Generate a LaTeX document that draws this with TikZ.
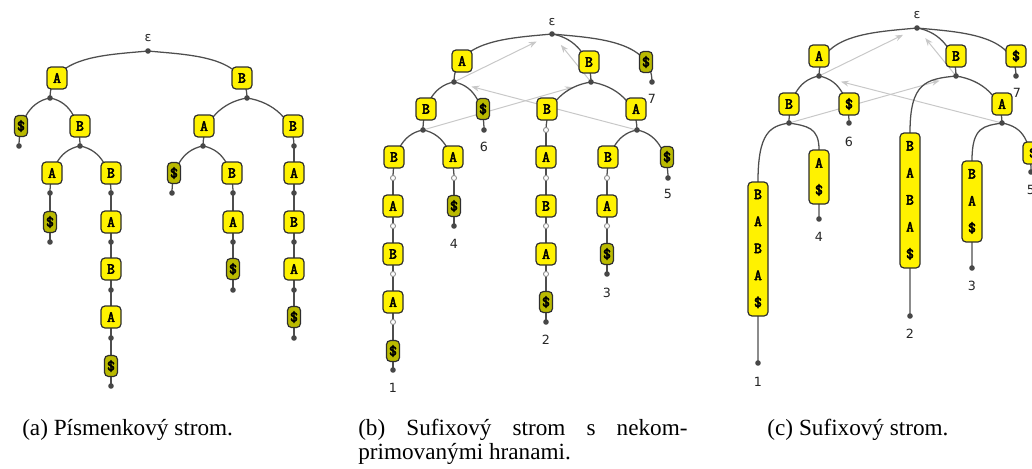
\documentclass[tikz,border=0pt]{standalone}
\usepackage{fontspec}
\setmainfont{Liberation Serif}
\newfontfamily\monofam[AutoFakeBold=3]{Latin Modern Mono}
\newfontfamily\sansfam{DejaVu Sans}
\usetikzlibrary{arrows.meta}
\pgfdeclarelayer{bg}
\pgfsetlayers{bg,main}
\definecolor{olv}{RGB}{186,186,0}
\definecolor{edgec}{RGB}{78,78,78}
\definecolor{linkc}{RGB}{200,200,200}
\newcommand\boxtxt{\monofam\bfseries\fontsize{11.5}{20.25}\selectfont}
\newcommand\numtxt{\sansfam\fontsize{9.5}{11}\selectfont}
\newcommand\captxt{\fontsize{17.4}{18}\selectfont}
\newcommand\cv[4]{\draw[edge] (#1.center) .. controls +(#3,4) and +(0,-#4) .. (#2.center);}
\newcommand\cvl[5]{\draw[edge] (#1.center) .. controls +(#4,3) and +(0,-#5) .. (#2.north) -- (#3.center);}
\tikzset{
  dot/.style={circle, fill=black!72, inner sep=0pt, minimum size=4.2pt},
  hdot/.style={circle, draw=black!45, fill=white, line width=0.65pt, inner sep=0pt, minimum size=3.8pt},
  lab/.style={draw=black!82, line width=0.9pt, fill=yellow, rounded corners=3pt, inner sep=0pt,
              minimum width=15pt, minimum height=16.5pt, font=\boxtxt},
  dol/.style={lab, fill=olv, minimum width=9.75pt, minimum height=15.75pt},
  longbox/.style={lab, align=center, minimum width=15pt},
  edge/.style={draw=edgec, line width=0.95pt},
  slink/.style={draw=linkc, line width=0.75pt, -{Stealth[length=6pt, width=4.5pt]}},
  num/.style={font=\numtxt, text=black!85, inner sep=0pt},
  captn/.style={font=\captxt, inner sep=0pt},
}
\begin{document}
\begin{tikzpicture}[x=0.75pt, y=-0.75pt]
\useasboundingbox (0,0) rectangle (1032,468);

% ================= (a) =================
\node[num] (aeps) at (148,38) {ε};
\node[dot] (aR) at (148,51) {};
\node[lab] (aA) at (57,78) {A};   \node[dot] (a1) at (50,98) {};
\node[lab] (aB) at (242,78) {B};  \node[dot] (a2) at (247,98) {};
\node[dol] (a1S) at (21,126) {\$}; \node[dot] (a11) at (19,146) {};
\node[lab] (a1B) at (80,126) {B};  \node[dot] (a12) at (80,146) {};
\node[lab] (a2A) at (204,126) {A}; \node[dot] (a21) at (203,146) {};
\node[lab] (a2B) at (293,126) {B}; \node[dot] (a22) at (294,146) {};
\node[lab] (a12A) at (52,173) {A};  \node[dot] (a121) at (50,193) {};
\node[lab] (a12B) at (111,173) {B}; \node[dot] (a122) at (111,193) {};
\node[dol] (a21S) at (174,173) {\$}; \node[dot] (a211) at (172,193) {};
\node[lab] (a21B) at (232,173) {B}; \node[dot] (a212) at (233,193) {};
\node[lab] (a22A) at (294,173) {A}; \node[dot] (a221) at (294,193) {};
\node[dol] (a4a) at (50,222) {\$};  \node[dot] (a4da) at (50,242) {};
\node[lab] (a4b) at (111,222) {A};  \node[dot] (a4db) at (111,242) {};
\node[lab] (a4c) at (233,222) {A};  \node[dot] (a4dc) at (233,242) {};
\node[lab] (a4d) at (294,222) {B};  \node[dot] (a4dd) at (294,242) {};
\node[lab] (a5b) at (111,269) {B};  \node[dot] (a5db) at (111,290) {};
\node[dol] (a5c) at (233,269) {\$}; \node[dot] (a5dc) at (233,290) {};
\node[lab] (a5d) at (294,269) {A};  \node[dot] (a5dd) at (294,290) {};
\node[lab] (a6b) at (111,317) {A};  \node[dot] (a6db) at (111,338) {};
\node[dol] (a6d) at (294,317) {\$}; \node[dot] (a6dd) at (294,338) {};
\node[dol] (a7b) at (111,366) {\$}; \node[dot] (a7db) at (111,386) {};

% ================= (b) =================
\node[num] (beps) at (552,22) {ε};
\node[dot] (bR) at (552,34) {};
\node[lab] (bA) at (462,61) {A};  \node[dot] (b1) at (454,82) {};
\node[lab] (bB) at (589,62) {B};  \node[dot] (b2) at (591,82) {};
\node[dol] (bS) at (646,62) {\$}; \node[dot] (b3) at (652,82) {}; \node[num] (bn7) at (652,99) {7};
\node[lab] (b1B) at (426,109) {B}; \node[dot] (b11) at (423,130) {};
\node[dol] (b1S) at (483,109) {\$}; \node[dot] (b12) at (484,130) {}; \node[num] (bn6) at (484,147) {6};
\node[lab] (b2B) at (547,109) {B}; \node[hdot] (b21) at (546,130) {};
\node[lab] (b2A) at (636,109) {A}; \node[dot] (b22) at (637,130) {};
\node[lab] (b11B) at (394,157) {B}; \node[hdot] (b111) at (393,178) {};
\node[lab] (b11A) at (453,157) {A}; \node[hdot] (b112) at (454,178) {};
\node[lab] (b21A) at (546,157) {A}; \node[hdot] (b211) at (546,178) {};
\node[lab] (b22B) at (608,157) {B}; \node[hdot] (b221) at (607,178) {};
\node[dol] (b22S) at (667,157) {\$}; \node[dot] (b222) at (668,178) {}; \node[num] (bn5) at (668,194) {5};
\node[lab] (b4a) at (393,206) {A};  \node[hdot] (b4da) at (393,226) {};
\node[dol] (b4b) at (454,206) {\$}; \node[dot] (b4db) at (454,226) {}; \node[num] (bn4) at (454,244) {4};
\node[lab] (b4c) at (546,206) {B};  \node[hdot] (b4dc) at (546,226) {};
\node[lab] (b4d) at (607,206) {A};  \node[hdot] (b4dd) at (607,226) {};
\node[lab] (b5a) at (393,254) {B};  \node[hdot] (b5da) at (393,274) {};
\node[lab] (b5c) at (546,254) {A};  \node[hdot] (b5dc) at (546,274) {};
\node[dol] (b5d) at (607,254) {\$}; \node[dot] (b5dd) at (607,274) {}; \node[num] (bn3) at (607,293) {3};
\node[lab] (b6a) at (393,302) {A};  \node[hdot] (b6da) at (393,322) {};
\node[dol] (b6c) at (546,302) {\$}; \node[dot] (b6dc) at (546,322) {}; \node[num] (bn2) at (546,340) {2};
\node[dol] (b7a) at (393,351) {\$}; \node[dot] (b7da) at (393,370) {}; \node[num] (bn1) at (393,388) {1};

% ================= (c) =================
\node[num] (ceps) at (917,15) {ε};
\node[dot] (cR) at (917,28) {};
\node[lab] (cA) at (819,56) {A};  \node[dot] (c1) at (819,76) {};
\node[lab] (cB) at (956,56) {B};  \node[dot] (c2) at (956,76) {};
\node[lab] (cS) at (1016,56) {\$}; \node[dot] (c3) at (1016,76) {}; \node[num] (cn7) at (1017,93) {7};
\node[lab] (c1B) at (789,104) {B}; \node[dot] (c11) at (789,123) {};
\node[lab] (c1S) at (849,104) {\$}; \node[dot] (c12) at (849,123) {}; \node[num] (cn6) at (849,142) {6};
\node[longbox, minimum height=101.25pt] (c2L) at (910,200.5) {B\\A\\B\\A\\\$};
\node[dot] (c21) at (910,316) {}; \node[num] (cn2) at (910,334) {2};
\node[lab] (c2A) at (1002,104) {A}; \node[dot] (c22) at (1002,123) {};
\node[longbox, minimum height=100.5pt] (c11L) at (758,249) {B\\A\\B\\A\\\$};
\node[dot] (c111) at (758,363) {}; \node[num] (cn1) at (758,382) {1};
\node[longbox, minimum height=40.5pt] (c12L) at (819,177) {A\\\$};
\node[dot] (c112) at (819,219) {}; \node[num] (cn4) at (819,237) {4};
\node[longbox, minimum height=60.75pt] (c22L) at (972,201.5) {B\\A\\\$};
\node[dot] (c221) at (972,268) {}; \node[num] (cn3) at (972,286) {3};
\node[lab] (c22S) at (1033,153) {\$}; \node[dot] (c222) at (1031,172) {}; \node[num] (cn5) at (1031,190) {5};

% ================= captions =================
\node[captn, anchor=base west] (capa) at (22,435) {(a) Písmenkový strom.};
\node[captn, anchor=base west] (capb1) at (358,435) {\makebox[247pt][s]{(b) Sufixový strom s nekom-}};
\node[captn, anchor=base west] (capb2) at (358,459) {primovanými hranami.};
\node[captn, anchor=base] (capc) at (858,435) {(c) Sufixový strom.};

\begin{pgfonlayer}{bg}
% suffix links
\draw[slink, shorten >=12.75pt] (b1.center) -- (bR.center);
\draw[slink, shorten >=10.5pt] (b2.center) -- (bR.center);
\draw[slink, shorten >=14pt] (b11.center) -- (b2.center);
\draw[slink, shorten >=13.5pt] (b22.center) -- (b1.center);
\draw[slink, shorten >=11.6pt] (c1.center) -- (cR.center);
\draw[slink, shorten >=9.75pt] (c2.center) -- (cR.center);
\draw[slink, shorten >=12.75pt] (c11.center) -- (c2.center);
\draw[slink, shorten >=17pt] (c22.center) -- (c1.center);
% (a) edges
\cv{aR}{a1}{-42}{42} \cv{aR}{a2}{42}{42}
\cv{a1}{a11}{-22}{22} \cv{a1}{a12}{22}{22}
\cv{a2}{a21}{-25}{25} \cv{a2}{a22}{26}{26}
\cv{a12}{a121}{-22}{22} \cv{a12}{a122}{22}{22}
\cv{a21}{a211}{-22}{22} \cv{a21}{a212}{22}{22}
\draw[edge] (a22.center) -- (a221.center) -- (a4dd.center) -- (a5dd.center) -- (a6dd.center);
\draw[edge] (a121.center) -- (a4da.center);
\draw[edge] (a122.center) -- (a4db.center) -- (a5db.center) -- (a6db.center) -- (a7db.center);
\draw[edge] (a212.center) -- (a4dc.center) -- (a5dc.center);
% (b) edges
\cv{bR}{b1}{-42}{42} \cv{bR}{b2}{24}{24} \cv{bR}{b3}{42}{42}
\cv{b1}{b11}{-22}{22} \cv{b1}{b12}{22}{22}
\cv{b2}{b21}{-26}{26} \cv{b2}{b22}{26}{26}
\cv{b11}{b111}{-22}{22} \cv{b11}{b112}{22}{22}
\cv{b22}{b221}{-22}{22} \cv{b22}{b222}{22}{22}
\draw[edge] (b111.center) -- (b4da.center) -- (b5da.center) -- (b6da.center) -- (b7da.center);
\draw[edge] (b112.center) -- (b4db.center);
\draw[edge] (b21.center) -- (b211.center) -- (b4dc.center) -- (b5dc.center) -- (b6dc.center);
\draw[edge] (b221.center) -- (b4dd.center) -- (b5dd.center);
% (c) edges
\cv{cR}{c1}{-42}{42} \cv{cR}{c2}{24}{24} \cv{cR}{c3}{42}{42}
\cv{c1}{c11}{-22}{22} \cv{c1}{c12}{22}{22}
\cvl{c2}{c2L}{c21}{-30}{50} \cv{c2}{c22}{26}{26}
\cvl{c11}{c11L}{c111}{-18}{50} \cvl{c11}{c12L}{c112}{18}{22}
\cvl{c22}{c22L}{c221}{-18}{34} \cv{c22}{c222}{22}{30}
\end{pgfonlayer}
\end{tikzpicture}
\end{document}
